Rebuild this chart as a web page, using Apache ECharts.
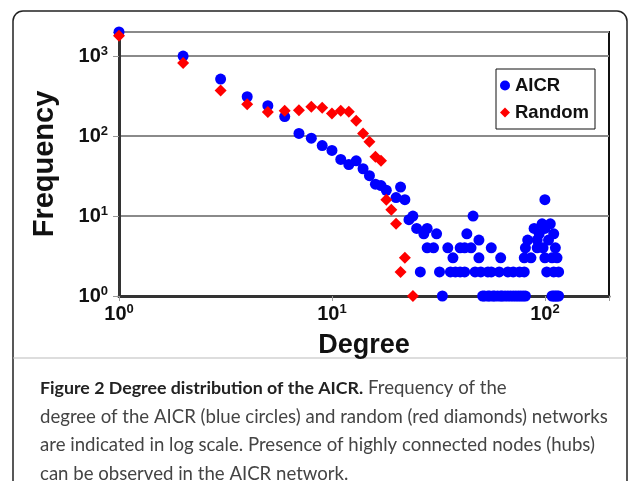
<!DOCTYPE html>
<html>
<head>
<meta charset="utf-8">
<script src="https://cdn.jsdelivr.net/npm/echarts@6/dist/echarts.min.js"></script>
<style>
  html, body { margin: 0; padding: 0; background: #fff; }
  #app { width: 633px; height: 481px; }
</style>
</head>
<body>
<div id="app"></div>
<script>
// degree -> frequency
const aicrDegree = [1, 2, 3, 4, 5, 6, 7, 8, 9, 10, 11, 12, 13, 14, 15, 16, 17, 18, 20, 21, 22, 23, 24, 25,
  26, 27, 28, 28, 30, 31, 32, 33, 35, 36, 37, 38, 40, 40, 42, 42, 43, 45, 46, 47, 49, 49, 50, 54, 56, 56,
  61, 62, 67, 71, 76, 80, 80, 81, 83, 86, 89, 92, 92, 94, 97, 98, 100, 100, 100, 102, 104, 106, 108, 110,
  110, 112, 114, 116,
  51, 52, 54, 55, 57, 58, 60, 62, 63, 65, 67, 69, 71, 73, 75, 77, 79, 81,
  108, 110, 112, 114, 116];
const aicrFreq = [2000, 1000, 515, 310, 240, 175, 108, 94, 76, 66, 51, 44, 49, 39, 32, 25, 24, 21, 17, 23, 16, 9, 10, 7,
  2, 6, 7, 4, 4, 6, 2, 1, 4, 2, 3, 2, 4, 2, 4, 2, 6, 4, 10, 2, 5, 3, 2, 2, 4, 2,
  2, 3, 2, 2, 2, 2, 3, 4, 5, 3, 7, 4, 5, 6, 8, 4, 16, 7, 3, 2, 5, 8, 3, 6,
  2, 4, 3, 2,
  1, 1, 1, 1, 1, 1, 1, 1, 1, 1, 1, 1, 1, 1, 1, 1, 1, 1,
  1, 1, 1, 1, 1];

const randomDegree = [1, 2, 3, 4, 5, 6, 7, 8, 9, 10, 11, 12, 13, 14, 15, 16, 17, 18, 19, 20, 21, 22, 24];
const randomFreq = [1800, 820, 370, 250, 200, 207, 210, 232, 226, 191, 207, 201, 155, 108, 85, 55, 49, 16, 12, 8, 2, 3, 1];

const xTicks = [1, 10, 100];
const yTicks = [1, 10, 100, 1000];

const caption = [
  "{b|Figure 2 Degree distribution of the AICR.} Frequency of the",
  "degree of the AICR (blue circles) and random (red diamonds) networks",
  "are indicated in log scale. Presence of highly connected nodes (hubs)",
  "can be observed in the AICR network."
];

const FONT = "Liberation Sans";

function pow10Label(ticks) {
  return function (v) {
    for (const t of ticks) {
      if (Math.abs(v - t) / t < 1e-6) {
        return "10{sup|" + Math.round(Math.log10(t)) + "}";
      }
    }
    return "";
  };
}

const labelRich = {
  sup: { fontSize: 13, fontWeight: "bold", fontFamily: FONT, color: "#111", padding: [0, 0, 9, 0] }
};

const myChart = echarts.init(document.getElementById("app"));

myChart.setOption({
  animation: false,
  backgroundColor: "#fff",
  grid: {
    left: 119, top: 32, right: 24, bottom: 185,
    show: true, borderColor: "#111", borderWidth: 2, backgroundColor: "transparent"
  },
  legend: {
    orient: "vertical",
    left: 496, top: 69,
    width: 101,
    padding: [7, 6, 7, 4],
    borderColor: "#111", borderWidth: 1,
    itemWidth: 10, itemHeight: 10, itemGap: 8,
    textStyle: { fontFamily: FONT, fontWeight: "bold", fontSize: 18.5, color: "#111" },
    data: [
      { name: "AICR", icon: "circle" },
      { name: "Random", icon: "diamond" }
    ]
  },
  xAxis: {
    type: "log", logBase: 10, min: 1, max: 200,
    name: "Degree", nameLocation: "middle", nameGap: 36,
    nameTextStyle: { fontFamily: FONT, fontWeight: "bold", fontSize: 27, color: "#111" },
    axisLine: { lineStyle: { color: "#333", width: 3 } },
    axisTick: { show: true, length: 5, lineStyle: { color: "#999", width: 1 } },
    minorTick: { show: false },
    splitLine: { show: false },
    axisLabel: {
      formatter: pow10Label(xTicks), margin: 7,
      fontFamily: FONT, fontWeight: "bold", fontSize: 20, color: "#111", rich: labelRich
    }
  },
  yAxis: {
    type: "log", logBase: 10, min: 1, max: 2000,
    name: "Frequency", nameLocation: "middle", nameGap: 60,
    nameTextStyle: { fontFamily: FONT, fontWeight: "bold", fontSize: 29, color: "#111" },
    axisLine: { lineStyle: { color: "#333", width: 3 } },
    axisTick: { show: true, length: 6, lineStyle: { color: "#999", width: 1 } },
    splitLine: { show: true, lineStyle: { color: "#8a8a8a", width: 2 } },
    axisLabel: {
      formatter: pow10Label(yTicks), margin: 11,
      fontFamily: FONT, fontWeight: "bold", fontSize: 20, color: "#111", rich: labelRich
    }
  },
  series: [
    {
      name: "AICR", type: "scatter", symbol: "circle", symbolSize: 11,
      itemStyle: { color: "#0000ff", opacity: 1 },
      data: aicrDegree.map((d, i) => [d, aicrFreq[i]])
    },
    {
      name: "Random", type: "scatter", symbol: "diamond", symbolSize: 12,
      itemStyle: { color: "#ff0000", opacity: 1 },
      data: randomDegree.map((d, i) => [d, randomFreq[i]])
    }
  ],
  graphic: [
    {
      type: "rect", z: -10, silent: true,
      shape: { x: 13, y: 11, width: 614, height: 490, r: 10 },
      style: { fill: "none", stroke: "#222", lineWidth: 1.5 }
    },
    {
      type: "line", silent: true,
      shape: { x1: 13, y1: 358, x2: 627, y2: 358 },
      style: { stroke: "#bbb", lineWidth: 1 }
    },
    {
      type: "text", silent: true, left: 40, top: 374,
      style: {
        text: caption.join("\n"),
        fontFamily: "Lato", fontSize: 18.6, lineHeight: 28.5, fill: "#444",
        rich: {
          b: { fontFamily: "Lato", fontWeight: "bold", fontSize: 17.8, fill: "#222", lineHeight: 28.5 }
        }
      }
    }
  ]
});
</script>
</body>
</html>
